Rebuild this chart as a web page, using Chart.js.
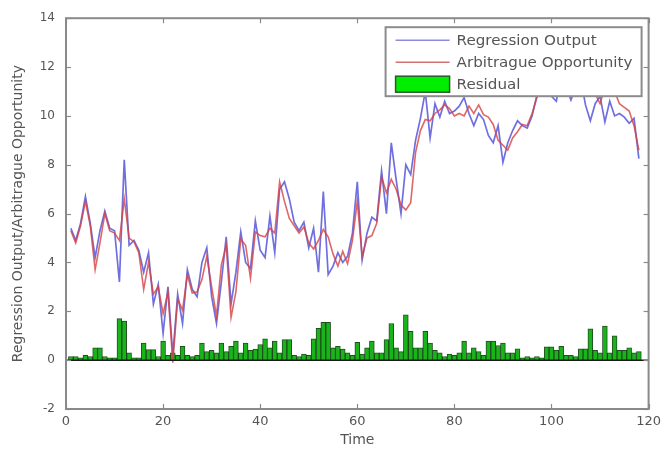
<!DOCTYPE html>
<html><head><meta charset="utf-8">
<script src="https://cdn.jsdelivr.net/npm/chart.js@4/dist/chart.umd.min.js"></script>
<style>html,body{margin:0;padding:0;background:#fff}</style>
</head><body>
<canvas id="c" width="666" height="450"></canvas>
<script>
// Time index (x axis)
const timeSteps = [1,2,3,4,5,6,7,8,9,10,11,12,13,14,15,16,17,18,19,20,21,22,23,24,25,26,27,28,29,30,
31,32,33,34,35,36,37,38,39,40,41,42,43,44,45,46,47,48,49,50,51,52,53,54,55,56,57,58,59,60,
61,62,63,64,65,66,67,68,69,70,71,72,73,74,75,76,77,78,79,80,81,82,83,84,85,86,87,88,89,90,
91,92,93,94,95,96,97,98,99,100,101,102,103,104,105,106,107,108,109,110,111,112,113,114,115,116,117,118];

// Regression Output (blue)
const regressionOutput = [5.4,4.9,5.6,6.7,5.6,4.2,5.3,6.1,5.4,5.3,3.2,8.2,4.7,4.9,4.5,3.6,4.4,2.3,3.1,1.1,
3.0,0.2,2.7,1.5,3.7,2.9,2.6,4.0,4.6,2.6,1.5,3.2,5.05,2.3,3.6,5.25,4.0,3.75,5.7,4.5,
4.2,5.9,4.4,7.0,7.3,6.6,5.65,5.3,5.65,4.6,5.4,3.6,6.9,3.5,3.85,4.4,4.0,4.25,5.2,7.3,
4.1,5.2,5.85,5.7,7.75,6.0,8.9,7.4,6.0,8.0,7.6,9.0,9.9,11.0,9.1,10.5,9.95,10.6,10.1,10.2,
10.4,10.75,10.1,9.6,10.1,9.85,9.2,8.9,9.6,8.1,8.9,9.4,9.8,9.6,9.5,10.0,10.85,11.3,11.6,10.8,
10.6,11.8,11.2,10.65,11.2,11.55,10.45,9.8,10.5,10.8,9.75,10.6,10.0,10.1,9.95,9.7,9.9,8.25];

// Arbitrague Opportunity (red)
const arbitrageOpportunity = [5.3,4.8,5.5,6.5,5.5,3.7,4.8,6.0,5.3,5.2,4.9,6.6,5.0,4.85,4.4,2.9,4.0,2.7,3.0,1.9,
2.8,-0.1,2.5,2.05,3.5,2.75,2.8,3.3,4.25,3.0,1.8,3.9,4.7,1.75,2.8,4.95,4.7,3.35,5.25,5.1,
5.05,5.4,5.2,7.3,6.5,5.8,5.5,5.2,5.45,4.8,4.55,4.9,5.35,5.05,4.35,3.85,4.45,3.95,4.9,6.5,
4.25,5.0,5.1,5.6,7.5,6.85,7.4,7.0,6.35,6.15,6.45,8.5,9.4,9.85,9.8,10.1,10.25,10.45,10.3,10.0,
10.1,10.0,10.4,10.1,10.45,10.05,9.95,9.65,9.0,8.8,8.6,9.1,9.35,9.65,9.6,10.1,10.75,11.2,11.05,11.35,
11.0,11.25,11.4,10.85,11.05,11.1,10.9,11.1,10.9,10.5,11.15,10.9,11.0,10.5,10.35,10.2,9.6,8.6];

// Residual (green bars)
const residual = [0.15,0.15,0.1,0.2,0.15,0.5,0.5,0.15,0.1,0.1,1.7,1.6,0.3,0.1,0.1,0.7,0.43,0.43,0.15,0.78,
0.2,0.3,0.2,0.57,0.2,0.15,0.2,0.7,0.35,0.4,0.3,0.7,0.35,0.57,0.78,0.3,0.7,0.4,0.45,0.64,
0.87,0.5,0.78,0.3,0.84,0.84,0.2,0.15,0.25,0.2,0.87,1.3,1.55,1.55,0.5,0.57,0.45,0.3,0.2,0.73,
0.25,0.5,0.78,0.3,0.3,0.84,1.5,0.5,0.35,1.86,1.18,0.5,0.5,1.18,0.7,0.4,0.3,0.15,0.25,0.2,
0.3,0.78,0.3,0.5,0.35,0.2,0.78,0.78,0.6,0.7,0.3,0.3,0.46,0.1,0.15,0.1,0.15,0.1,0.55,0.55,
0.4,0.57,0.2,0.2,0.15,0.46,0.46,1.28,0.4,0.3,1.4,0.3,1.0,0.4,0.4,0.5,0.3,0.35];

const xTicksMin = 0, xTicksMax = 120, xTickStep = 20;
const yTicksMin = -2, yTicksMax = 14, yTickStep = 2;

const pts = arr => arr.map((v, i) => ({x: timeSteps[i], y: v}));

const FONT = "'DejaVu Sans', sans-serif";
const TEXT = '#555555';
const AXIS = '#8a8a8a';

const matlabFrame = {
  id: 'matlabFrame',
  afterDatasetsDraw(chart) {
    const {ctx, chartArea: a, scales: {y}} = chart;
    const y0 = y.getPixelForValue(0);
    ctx.save();
    ctx.strokeStyle = '#1a1a1a';
    ctx.lineWidth = 1.5;
    ctx.beginPath(); ctx.moveTo(a.left, y0); ctx.lineTo(a.right, y0); ctx.stroke();
    ctx.restore();
  },
  afterDraw(chart) {
    const {ctx, chartArea: a, scales: {x, y}} = chart;
    ctx.save();
    ctx.strokeStyle = AXIS; ctx.lineWidth = 1.2;
    const tl = 5;
    x.ticks.forEach(t => {
      const px = Math.round(x.getPixelForValue(t.value)) + 0.5;
      ctx.beginPath(); ctx.moveTo(px, a.bottom); ctx.lineTo(px, a.bottom - tl); ctx.stroke();
      ctx.beginPath(); ctx.moveTo(px, a.top); ctx.lineTo(px, a.top + tl); ctx.stroke();
    });
    y.ticks.forEach(t => {
      const py = Math.round(y.getPixelForValue(t.value)) + 0.5;
      ctx.beginPath(); ctx.moveTo(a.left, py); ctx.lineTo(a.left + tl, py); ctx.stroke();
      ctx.beginPath(); ctx.moveTo(a.right, py); ctx.lineTo(a.right - tl, py); ctx.stroke();
    });
    const ds = chart.data.datasets;
    const bw = 256, bh = 69;
    const bx = a.right - 7 - bw, by = a.top + 9;
    ctx.fillStyle = '#ffffff';
    ctx.fillRect(bx, by, bw, bh);
    ctx.strokeStyle = '#8c8c8c'; ctx.lineWidth = 2;
    ctx.strokeRect(bx, by, bw, bh);
    const rows = [by + 13, by + 35, by + 57];
    const sx0 = bx + 10, sx1 = bx + 64, tx = bx + 71;
    ctx.font = '14px ' + FONT;
    ctx.textBaseline = 'middle';
    [ds[0], ds[1], ds[2]].forEach((d, i) => {
      const ry = rows[i];
      if (d.type === 'line') {
        ctx.strokeStyle = d.legendColor; ctx.lineWidth = 1.6;
        ctx.beginPath(); ctx.moveTo(sx0, ry); ctx.lineTo(sx1, ry); ctx.stroke();
      } else {
        ctx.fillStyle = '#00ee00';
        ctx.fillRect(sx0, ry - 8, sx1 - sx0, 16);
        ctx.strokeStyle = '#2a5a2a'; ctx.lineWidth = 1.5;
        ctx.strokeRect(sx0, ry - 8, sx1 - sx0, 16);
      }
      ctx.fillStyle = TEXT;
      ctx.save();
      ctx.translate(tx, ry);
      ctx.scale(1.08, 1);
      ctx.fillText(d.label, 0, 1);
      ctx.restore();
    });
    ctx.strokeStyle = AXIS; ctx.lineWidth = 2;
    ctx.strokeRect(a.left, a.top, a.right - a.left, a.bottom - a.top);
    ctx.restore();
  }
};

new Chart(document.getElementById('c'), {
  type: 'bar',
  data: {
    datasets: [
      {
        type: 'line', label: 'Regression Output', data: pts(regressionOutput),
        borderColor: 'rgba(75,75,215,0.8)', legendColor: '#8c8cdc', borderWidth: 1.7, pointRadius: 0, tension: 0, order: 2
      },
      {
        type: 'line', label: 'Arbitrague Opportunity', data: pts(arbitrageOpportunity),
        borderColor: 'rgba(215,65,65,0.8)', legendColor: '#d27272', borderWidth: 1.6, pointRadius: 0, tension: 0, order: 1
      },
      {
        type: 'bar', label: 'Residual', data: pts(residual),
        backgroundColor: 'rgb(25,180,25)', borderColor: 'rgba(10,60,10,0.9)', borderWidth: 1,
        barPercentage: 1.0, categoryPercentage: 1.0, order: 3
      }
    ]
  },
  options: {
    responsive: false, animation: false, devicePixelRatio: 1,
    layout: {padding: {left: 0, top: 14, right: 12, bottom: 0}},
    plugins: {legend: {display: false}, tooltip: {enabled: false}},
    scales: {
      x: {
        type: 'linear', min: xTicksMin, max: xTicksMax, offset: false,
        ticks: {stepSize: xTickStep, color: TEXT, font: {family: FONT, size: 13}, padding: 5, maxRotation: 0},
        grid: {display: false, drawTicks: false},
        border: {display: false},
        title: {display: true, text: 'Time', color: TEXT, font: {family: FONT, size: 14}, padding: {top: 0, bottom: 1}},
        afterFit: s => { s.height = 41; }
      },
      y: {
        min: yTicksMin, max: yTicksMax,
        ticks: {stepSize: yTickStep, color: TEXT, font: {family: FONT, size: 12}, padding: 11},
        grid: {display: false, drawTicks: false},
        border: {display: false},
        title: {display: true, text: 'Regression Output/Arbitrague Opportunity', color: TEXT, font: {family: FONT, size: 14}, padding: {top: 10, bottom: 0}},
        afterFit: s => { s.width = 66; }
      }
    }
  },
  plugins: [matlabFrame]
});
</script>
</body></html>
